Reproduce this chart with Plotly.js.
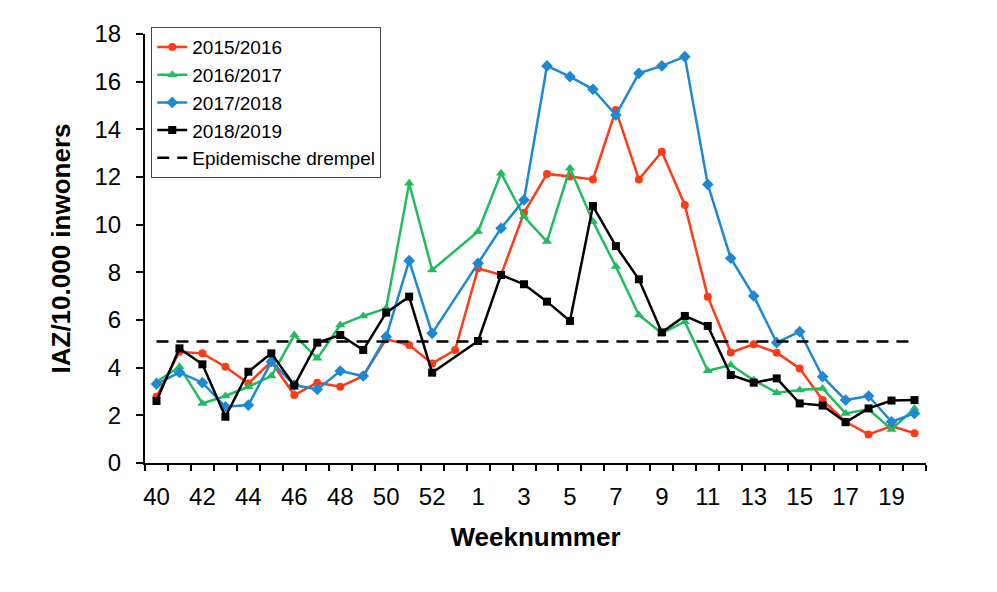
<!DOCTYPE html>
<html>
<head>
<meta charset="utf-8">
<script src="https://cdn.plot.ly/plotly-3.0.1.min.js"></script>
<style>
  html, body { margin: 0; padding: 0; background: #fff; }
  #chart { width: 997px; height: 592px; }
</style>
</head>
<body>
<div id="chart"></div>
<script>
// Week numbers (season runs from week 40 to week 20; 2015/2016 had a week 53)
const weeks = ['40','41','42','43','44','45','46','47','48','49','50','51','52','53',
               '1','2','3','4','5','6','7','8','9','10','11','12','13','14','15','16','17','18','19','20'];

const s2015_2016 = [2.78,4.67,4.6,4.04,3.34,4.25,2.85,3.37,3.2,3.65,5.2,4.95,4.18,4.74,
                    8.17,7.89,10.5,12.13,12.02,11.9,14.81,11.9,13.06,10.83,6.98,4.64,4.98,4.63,3.97,2.64,1.73,1.2,1.55,1.25];
const s2016_2017 = [3.41,4.04,2.5,2.81,3.2,3.65,5.37,4.39,5.79,6.17,6.49,11.74,8.1,null,
                    9.71,12.16,10.34,9.29,12.37,10.13,8.24,6.21,5.44,5.93,3.87,4.11,3.48,2.95,3.06,3.13,2.08,2.25,1.41,2.29];
const s2017_2018 = [3.31,3.8,3.37,2.36,2.43,4.25,3.27,3.09,3.86,3.65,5.3,8.49,5.44,null,
                    8.38,9.85,11.04,16.66,16.21,15.68,14.6,16.35,16.66,17.05,11.69,8.59,7.01,5.05,5.51,3.62,2.64,2.81,1.73,2.08];
const s2018_2019 = [2.6,4.81,4.14,1.94,3.83,4.6,3.25,5.05,5.37,4.74,6.31,6.98,3.79,null,
                    5.12,7.89,7.5,6.77,5.96,10.78,9.1,7.71,5.48,6.17,5.75,3.69,3.37,3.55,2.5,2.41,1.71,2.29,2.62,2.64];
const threshold = 5.1;

const seriesNames = ['2015/2016','2016/2017','2017/2018','2018/2019'];
const thresholdName = 'Epidemische drempel';

const xIdx = weeks.map((w, i) => i);
const tickIdx = xIdx.filter(i => i % 2 === 0);
const tickLbl = tickIdx.map(i => weeks[i]);

const FONT = '"Liberation Sans", Arial, sans-serif';

function series(name, y, color, symbol, size) {
  return {
    type: 'scatter', mode: 'lines+markers', name: name,
    x: xIdx, y: y, connectgaps: true,
    line: { color: color, width: 2.5 },
    marker: { color: color, symbol: symbol, size: size }
  };
}

const traces = [
  series(seriesNames[0], s2015_2016, '#ff3a16', 'circle', 8),
  series(seriesNames[1], s2016_2017, '#22bb5f', 'triangle-up', 9),
  series(seriesNames[2], s2017_2018, '#1c89d2', 'diamond', 9),
  series(seriesNames[3], s2018_2019, '#000000', 'square', 8),
  {
    type: 'scatter', mode: 'lines', name: thresholdName,
    x: xIdx, y: weeks.map(() => threshold),
    line: { color: '#000000', width: 2.5, dash: '12px,8px' }
  }
];

const layout = {
  width: 997, height: 592,
  paper_bgcolor: '#ffffff', plot_bgcolor: '#ffffff',
  margin: { l: 145, r: 71, t: 34, b: 129 },
  font: { family: FONT, color: '#000000', size: 24 },
  showlegend: true,
  legend: {
    x: 0.008, y: 1.016, xanchor: 'left', yanchor: 'top',
    bgcolor: '#ffffff', bordercolor: '#444444', borderwidth: 1,
    font: { family: FONT, size: 19, color: '#000000' },
    tracegroupgap: 0
  },
  xaxis: {
    range: [-0.5, weeks.length - 0.5],
    tickmode: 'array', tickvals: tickIdx, ticktext: tickLbl,
    ticks: 'outside', ticklen: 6, tickcolor: 'rgba(0,0,0,0)',
    ticklabelstandoff: 5,
    minor: { tickmode: 'linear', tick0: -0.5, dtick: 1, ticks: 'outside', ticklen: 6, tickwidth: 2, tickcolor: '#000000' },
    showline: true, linecolor: '#000000', linewidth: 2,
    showgrid: false, zeroline: false,
    tickfont: { family: FONT, size: 24, color: '#000000' },
    title: { text: '<b>Weeknummer</b>', font: { family: FONT, size: 26, color: '#000000' }, standoff: 19 },
    fixedrange: true
  },
  yaxis: {
    range: [0, 18], dtick: 2, tick0: 0,
    ticks: 'outside', ticklen: 7, tickwidth: 2, tickcolor: '#000000',
    ticklabelstandoff: 10,
    showline: true, linecolor: '#000000', linewidth: 2,
    showgrid: false, zeroline: false,
    tickfont: { family: FONT, size: 24, color: '#000000' },
    title: { text: '<b>IAZ/10.000 inwoners</b>', font: { family: FONT, size: 26, color: '#000000' }, standoff: 16 },
    fixedrange: true
  }
};

Plotly.newPlot('chart', traces, layout, { displayModeBar: false, staticPlot: true });
</script>
</body>
</html>
